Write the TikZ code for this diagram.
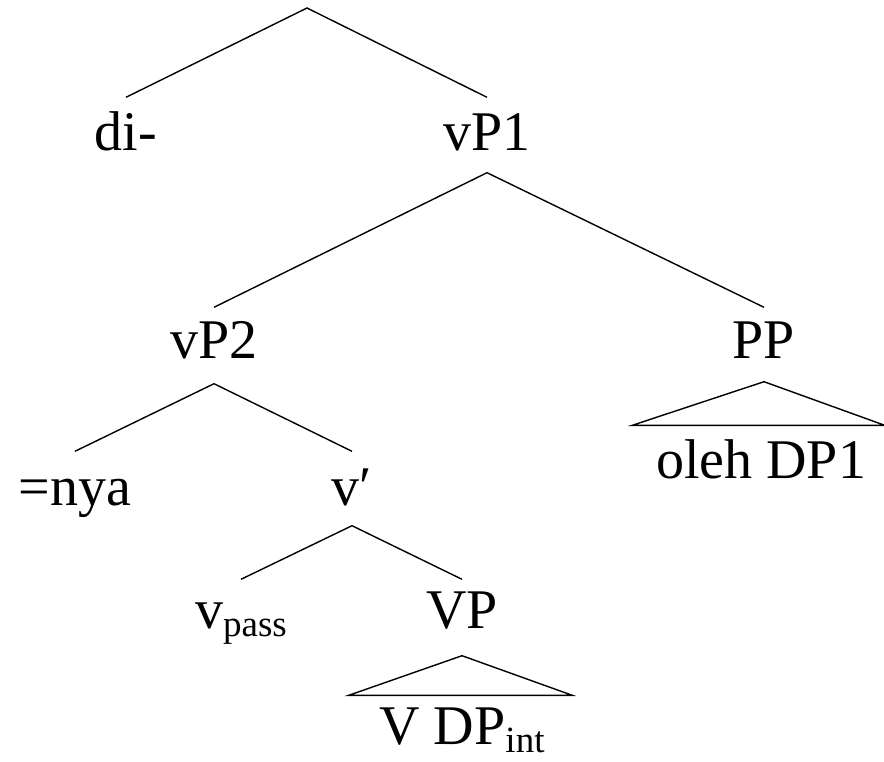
\documentclass[tikz,border=0pt]{standalone}
\usepackage{fontspec}
\setmainfont{Liberation Serif}
\begin{document}
\begin{tikzpicture}[x=1pt,y=-1pt,line width=1.4pt,
  lbl/.style={anchor=base,inner sep=0pt,text height=40pt,text depth=12pt,font=\fontsize{56}{60}\selectfont}]
\useasboundingbox (0,0) rectangle (884,761);
\newcommand{\subtxt}[1]{\raisebox{-8pt}{\fontsize{37}{40}\selectfont #1}}
\coordinate (root) at (307,8);
\node[lbl] (di) at (126,150) {di-};
\node[lbl] (vP1) at (487,150) {vP1};
\node[lbl] (vP2) at (214,358) {vP2};
\node[lbl] (PP) at (764,358) {PP};
\node[lbl] (oleh) at (761,478) {oleh DP1};
\node[lbl] (nya) at (75,505) {=nya};
\node[lbl] (vbar) at (352,505) {v′};
\node[lbl] (vpass) at (241,628) {v\subtxt{pass}};
\node[lbl] (VP) at (462,628) {VP};
\node[lbl] (VDP) at (462,744) {V DP\subtxt{int}};
% root
\draw ([yshift=12pt]di.north) -- (root) -- ([yshift=12pt]vP1.north);
% vP1
\draw ([yshift=10pt]vP2.north) -- ([yshift=-10pt]vP1.south) -- ([yshift=10pt]PP.north);
% vP2
\draw ([yshift=13pt]nya.north) -- ([yshift=-13pt]vP2.south) -- ([yshift=13pt]vbar.north);
% v'
\draw ([yshift=8pt]vpass.north) -- ([yshift=-8pt]vbar.south) -- ([yshift=8pt]VP.north);
% triangles
\draw ([yshift=-11pt]PP.south) -- ([xshift=-23pt,yshift=12pt]oleh.north west) -- ([xshift=18pt,yshift=12pt]oleh.north east) -- cycle;
\draw ([yshift=-15pt]VP.south) -- ([xshift=-30pt,yshift=8pt]VDP.north west) -- ([xshift=27pt,yshift=8pt]VDP.north east) -- cycle;
\end{tikzpicture}
\end{document}
